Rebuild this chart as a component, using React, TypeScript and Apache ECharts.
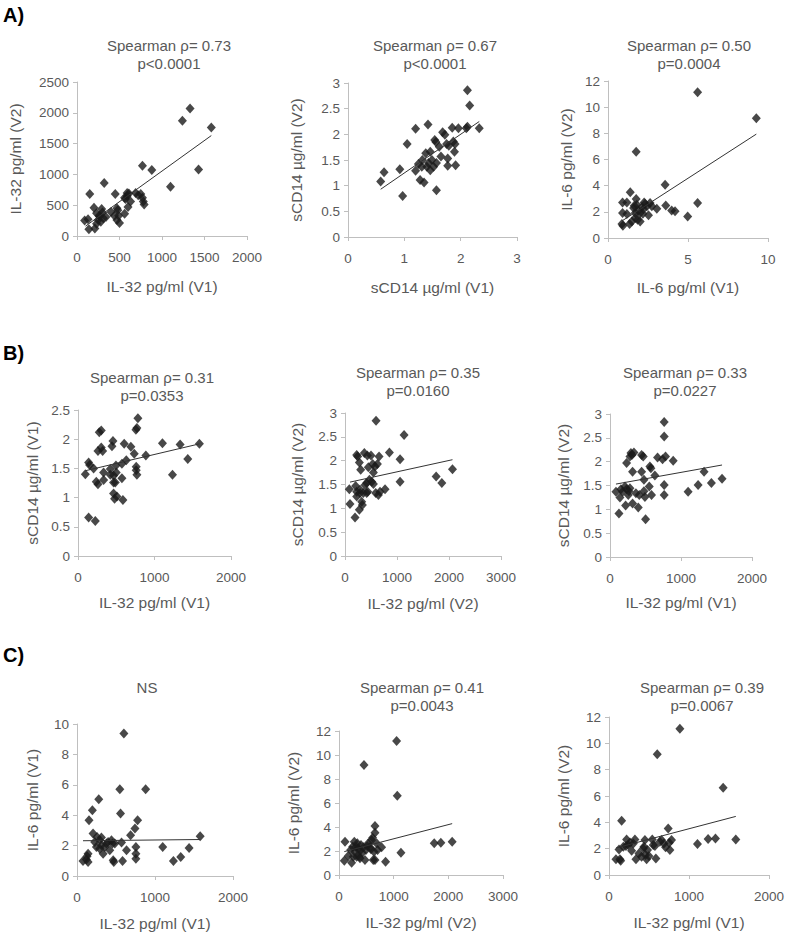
import React, { useEffect, useRef } from "react";
import * as echarts from "echarts";

// ---------- DATA ----------
const a1Points = [[90,250],[130,270],[150,680],[140,110],[210,120],[200,460],[230,370],[250,260],[270,320],[290,440],[300,380],[320,860],[280,230],[340,310],[400,390],[450,680],[470,450],[490,330],[470,260],[500,210],[560,360],[570,600],[590,650],[600,470],[630,560],[590,700],[690,700],[750,680],[770,620],[780,560],[790,510],[770,1140],[880,1070],[1100,800],[1240,1870],[1330,2070],[1430,1080],[1580,1760],[260,330],[310,290],[230,200],[440,330],[480,420],[560,620],[610,690],[720,660]];
const a1Trend = [[100,160],[1580,1630]];

const a2Points = [[0.58,1.08],[0.64,1.26],[0.92,1.32],[0.97,0.80],[1.05,1.81],[1.20,2.11],[1.20,1.29],[1.25,1.42],[1.28,1.11],[1.32,1.50],[1.35,1.06],[1.38,1.63],[1.40,1.37],[1.42,2.19],[1.43,1.44],[1.46,1.30],[1.49,1.50],[1.52,1.37],[1.54,1.89],[1.56,1.85],[1.57,0.91],[1.57,1.44],[1.62,1.76],[1.65,1.57],[1.68,2.04],[1.72,1.99],[1.75,1.81],[1.77,1.53],[1.77,1.39],[1.85,2.13],[1.87,1.86],[1.89,1.66],[1.90,1.81],[1.91,1.40],[1.96,2.12],[2.10,2.12],[2.12,2.15],[2.12,2.86],[2.16,2.56],[2.33,2.12],[1.31,1.37],[1.79,1.78],[1.46,1.66]];
const a2Trend = [[0.58,0.93],[2.33,2.25]];

const a3Points = [[9.27,9.16],[5.60,11.14],[5.60,2.67],[4.98,1.65],[3.57,4.07],[3.61,2.49],[3.98,2.11],[4.19,2.04],[3.05,2.24],[2.53,1.73],[1.76,6.59],[1.39,3.49],[0.91,2.72],[1.18,2.72],[0.91,1.91],[1.18,1.83],[0.87,1.07],[0.93,0.94],[1.35,1.07],[1.70,1.53],[1.76,2.98],[1.80,2.54],[1.91,2.11],[2.01,1.27],[2.12,2.37],[2.22,2.21],[2.32,2.62],[2.43,2.42],[2.63,2.67],[2.74,2.42],[1.60,2.29],[1.70,1.91],[1.49,1.27],[1.85,1.40],[2.01,1.91],[2.18,1.86],[2.26,2.72],[1.64,2.47]];
const a3Trend = [[0.87,1.3],[9.27,7.94]];

const b1Points = [[96,1.40],[139,1.60],[152,1.56],[139,0.66],[226,0.60],[204,1.50],[239,1.27],[261,1.23],[261,1.80],[278,2.12],[304,2.15],[304,1.86],[322,1.80],[335,1.43],[335,1.30],[422,1.49],[444,1.88],[457,1.97],[465,1.38],[422,1.39],[465,1.07],[478,0.98],[487,1.26],[496,1.55],[500,1.43],[509,1.02],[574,1.33],[587,0.96],[604,1.92],[631,1.64],[574,1.58],[691,1.87],[735,1.75],[761,1.53],[761,1.47],[757,2.16],[770,2.19],[783,2.36],[770,1.39],[887,1.72],[1104,1.93],[1235,1.39],[1335,1.91],[1435,1.66],[1587,1.92],[465,1.26]];
const b1Trend = [[96,1.46],[1587,1.92]];

const b2Points = [[83,1.40],[96,1.09],[193,0.81],[205,1.47],[225,1.35],[225,1.25],[225,2.12],[244,2.09],[276,1.96],[276,0.97],[289,1.32],[289,1.39],[302,1.81],[321,1.14],[334,1.07],[353,1.32],[372,2.16],[385,1.49],[430,2.11],[417,1.53],[436,1.35],[469,1.60],[449,1.86],[500,2.11],[533,1.93],[546,1.75],[546,1.51],[578,1.88],[591,1.32],[597,2.84],[623,1.93],[642,1.28],[655,2.09],[674,1.35],[770,1.40],[854,2.17],[1059,2.03],[1059,1.56],[1136,2.54],[1753,1.67],[1862,1.53],[2067,1.82],[514,1.56],[417,1.32]];
const b2Trend = [[96,1.55],[2067,2.02]];

const b3Points = [[84,1.37],[126,0.91],[140,1.25],[154,1.42],[178,1.37],[211,1.48],[220,1.08],[234,1.97],[234,1.42],[257,1.30],[267,1.38],[281,1.44],[281,2.11],[295,2.18],[309,2.14],[318,1.79],[318,1.12],[337,2.19],[365,1.34],[398,1.04],[412,1.30],[445,1.79],[445,2.14],[468,2.11],[478,1.62],[478,1.38],[492,1.26],[501,0.79],[553,1.48],[562,1.90],[576,1.86],[585,1.30],[632,1.71],[670,2.09],[740,2.05],[763,2.83],[763,2.53],[763,1.51],[763,1.30],[782,2.11],[890,2.02],[1100,1.37],[1241,1.51],[1325,1.79],[1428,1.55],[1578,1.64]];
const b3Trend = [[84,1.53],[1578,1.93]];

const c1Points = [[77,0.99],[120,1.08],[129,1.30],[142,0.92],[142,1.47],[154,3.67],[197,4.33],[206,2.79],[227,2.24],[249,1.91],[257,2.57],[279,5.05],[292,1.80],[313,2.53],[313,2.02],[335,1.47],[356,1.91],[378,2.13],[399,2.24],[420,1.69],[442,2.35],[455,2.13],[464,1.03],[472,0.92],[485,2.13],[549,5.71],[558,4.11],[571,2.20],[584,0.99],[601,9.38],[635,1.69],[687,2.68],[743,3.12],[755,1.91],[755,1.47],[755,1.14],[777,3.67],[880,5.71],[1099,1.91],[1236,0.99],[1330,1.25],[1437,1.85],[1579,2.62],[292,2.35]];
const c1Trend = [[77,2.32],[1579,2.40]];

const c2Points = [[97,1.19],[110,2.78],[213,2.08],[231,1.03],[250,2.36],[262,1.53],[280,2.78],[292,1.94],[311,2.36],[323,1.53],[335,2.64],[353,2.22],[372,1.53],[384,2.03],[402,2.50],[426,1.86],[445,2.31],[457,9.17],[475,1.25],[493,2.08],[518,2.42],[536,2.64],[566,2.31],[585,2.14],[597,2.92],[615,3.11],[627,1.25],[640,1.94],[658,4.08],[658,3.53],[658,1.25],[688,2.64],[706,2.08],[779,2.31],[852,1.11],[1054,11.17],[1066,6.61],[1133,1.86],[1742,2.64],[1863,2.69],[2070,2.78],[170,1.58],[384,1.39]];
const c2Trend = [[97,1.95],[2070,4.28]];

const c3Points = [[87,1.19],[125,1.94],[137,1.19],[158,4.12],[146,1.09],[212,2.20],[220,2.70],[241,2.27],[262,2.47],[283,1.84],[304,2.40],[324,2.70],[337,1.19],[374,1.64],[407,1.39],[428,2.02],[449,2.65],[457,1.52],[470,1.19],[482,1.89],[499,1.44],[541,2.70],[553,2.27],[574,2.20],[586,1.26],[603,9.17],[636,2.53],[657,2.65],[686,2.40],[707,2.10],[740,3.54],[753,2.45],[761,1.89],[782,2.65],[886,11.11],[1106,2.35],[1239,2.73],[1331,2.78],[1427,6.62],[1585,2.70],[179,2.15],[437,2.15]];
const c3Trend = [[87,2.05],[1585,4.45]];

const panelTitles = [
  "Spearman ρ= 0.73\np<0.0001",
  "Spearman ρ= 0.67\np<0.0001",
  "Spearman ρ= 0.50\np=0.0004",
  "Spearman ρ= 0.31\np=0.0353",
  "Spearman ρ= 0.35\np=0.0160",
  "Spearman ρ= 0.33\np=0.0227",
  "NS",
  "Spearman ρ= 0.41\np=0.0043",
  "Spearman ρ= 0.39\np=0.0067",
];
const xNames = [
  "IL-32 pg/ml (V1)", "sCD14 µg/ml (V1)", "IL-6 pg/ml (V1)",
  "IL-32 pg/ml (V1)", "IL-32 pg/ml (V2)", "IL-32 pg/ml (V1)",
  "IL-32 pg/ml (V1)", "IL-32 pg/ml (V2)", "IL-32 pg/ml (V1)",
];
const yNames = [
  "IL-32 pg/ml (V2)", "sCD14 µg/ml (V2)", "IL-6 pg/ml (V2)",
  "sCD14 µg/ml (V1)", "sCD14 µg/ml (V2)", "sCD14 µg/ml (V2)",
  "IL-6 pg/ml (V1)", "IL-6 pg/ml (V2)", "IL-6 pg/ml (V2)",
];
// [min, max, interval]
const xScales = [
  [0, 2000, 500], [0, 3, 1], [0, 10, 5],
  [0, 2000, 1000], [0, 3000, 1000], [0, 2000, 1000],
  [0, 2000, 1000], [0, 3000, 1000], [0, 2000, 1000],
];
const yScales = [
  [0, 2500, 500], [0, 3, 0.5], [0, 12, 2],
  [0, 2.5, 0.5], [0, 3, 0.5], [0, 3, 0.5],
  [0, 10, 2], [0, 12, 2], [0, 12, 2],
];
const panelLetters = ["A)", "B)", "C)"];

const allPoints = [a1Points, a2Points, a3Points, b1Points, b2Points, b3Points, c1Points, c2Points, c3Points];
const allTrends = [a1Trend, a2Trend, a3Trend, b1Trend, b2Trend, b3Trend, c1Trend, c2Trend, c3Trend];

// ---------- LAYOUT ----------
const grids = [
  [77, 82, 170, 154], [348, 83, 169, 154], [608, 81, 160, 157],
  [78, 410, 153, 146], [345, 413, 156, 143], [610, 414, 142, 143],
  [77, 724, 156, 152], [339, 731, 164, 144], [609, 717, 160, 158],
];
const yNameGaps = [54, 44, 34, 38, 40, 39, 37, 38, 38];
const xNameGaps = [42, 42, 41, 38, 39, 37, 39, 39, 39];
const titlePos = [
  [169, 36], [435, 36], [689, 36],
  [152, 368], [418, 363], [685, 363],
  [147, 678], [422, 678], [702, 678],
];
const letterPos = [[3, 15], [3, 353], [3, 655]];

const TEXT = "#595959";
const AXIS = "#bfbfbf";
const FONT = "Liberation Sans, Arial, sans-serif";

export default function App() {
  const ref = useRef<HTMLDivElement>(null);
  useEffect(() => {
    if (!ref.current) return;
    const chart = echarts.init(ref.current, undefined, { renderer: "svg" });
    const plain = (v: number) => String(v);
    const option: any = {
      animation: false,
      backgroundColor: "#ffffff",
      grid: grids.map(([l, t, w, h]) => ({ left: l, top: t, width: w, height: h, containLabel: false })),
      xAxis: xScales.map(([mn, mx, iv], i) => ({
        gridIndex: i, type: "value", min: mn, max: mx, interval: iv,
        name: xNames[i], nameLocation: "middle", nameGap: xNameGaps[i],
        nameTextStyle: { fontSize: 15.5, color: TEXT, fontFamily: FONT },
        axisLine: { show: true, lineStyle: { color: AXIS, width: 1 } },
        axisTick: { show: true, length: 4, lineStyle: { color: AXIS } },
        axisLabel: { fontSize: 13.5, color: TEXT, margin: 14, fontFamily: FONT, formatter: plain },
        splitLine: { show: false },
      })),
      yAxis: yScales.map(([mn, mx, iv], i) => ({
        gridIndex: i, type: "value", min: mn, max: mx, interval: iv,
        name: yNames[i], nameLocation: "middle", nameGap: yNameGaps[i],
        nameTextStyle: { fontSize: 15.5, color: TEXT, fontFamily: FONT },
        axisLine: { show: true, lineStyle: { color: AXIS, width: 1 } },
        axisTick: { show: true, length: 4, lineStyle: { color: AXIS } },
        axisLabel: { fontSize: 13.5, color: TEXT, margin: 8, fontFamily: FONT, formatter: plain },
        splitLine: { show: false },
      })),
      series: [
        ...allTrends.map((tr, i) => ({
          type: "line", xAxisIndex: i, yAxisIndex: i, data: tr,
          showSymbol: false, symbol: "none", silent: true,
          lineStyle: { color: "#333333", width: 1 },
          z: 3,
        })),
        ...allPoints.map((pts, i) => ({
          type: "scatter", xAxisIndex: i, yAxisIndex: i, data: pts,
          symbol: "diamond", symbolSize: [9, 10],
          itemStyle: { color: "#1a1a1a" },
          z: 2,
        })),
      ],
      graphic: [
        ...panelTitles.map((t, i) => ({
          type: "text", x: titlePos[i][0], y: titlePos[i][1],
          style: {
            text: t, textAlign: "center", textVerticalAlign: "top",
            fontSize: 15, lineHeight: 18, fontFamily: FONT, fill: TEXT,
          },
        })),
        ...panelLetters.map((t, i) => ({
          type: "text", x: letterPos[i][0], y: letterPos[i][1],
          style: {
            text: t, textVerticalAlign: "middle",
            fontSize: 20, fontWeight: "bold", fontFamily: FONT, fill: "#000000",
          },
        })),
      ],
    };
    chart.setOption(option);
    return () => chart.dispose();
  }, []);
  return (
    <div
      ref={ref}
      style={{ position: "fixed", left: 0, top: 0, width: 787, height: 934, background: "#fff" }}
    />
  );
}
